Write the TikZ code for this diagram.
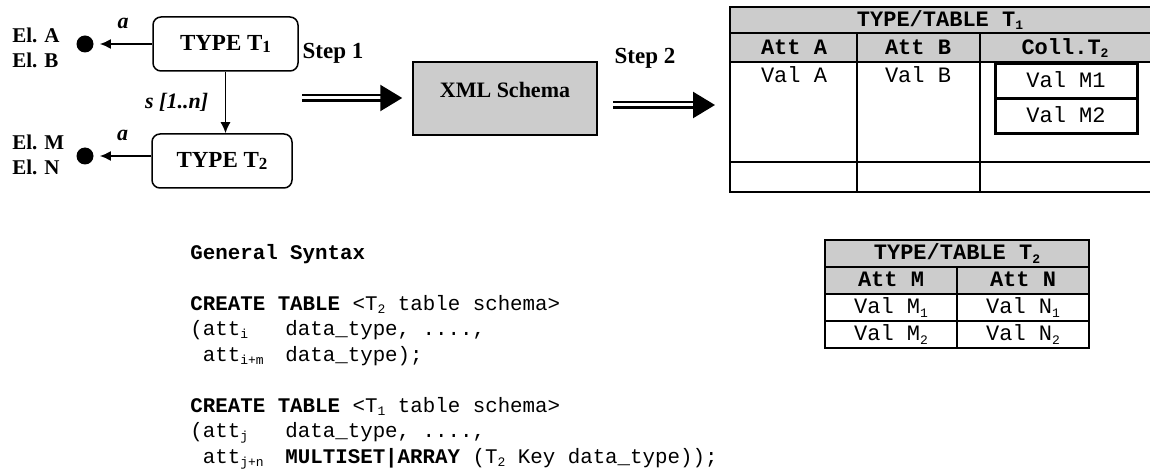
\documentclass[tikz,border=0pt]{standalone}
\usepackage{fontspec}
\setmainfont{Liberation Serif}
\setmonofont{Liberation Mono}
\usepackage{tikz}
\usetikzlibrary{positioning,arrows.meta}
\newcommand{\sbs}[1]{\raisebox{-0.3ex}{\fontsize{6.5}{6.5}\selectfont #1}}
\newcommand{\lsub}[1]{\raisebox{-0.25ex}{\fontsize{8.5}{8.5}\selectfont #1}}

\begin{document}
\begin{tikzpicture}[x=0.5pt, y=-0.5pt,
    typenode/.style={draw, rounded corners=4pt, line width=0.75pt, minimum height=27pt, font=\bfseries\fontsize{11.5}{12}\selectfont},
    elemdot/.style={circle, fill=black, inner sep=0pt, minimum size=8.5pt},
    rolearrow/.style={-{Latex[length=5.5pt, width=5pt]}, line width=0.75pt},
    rolelabel/.style={font=\bfseries\itshape\fontsize{11}{12}\selectfont},
    elemlabel/.style={align=left, anchor=west, inner sep=0pt, font=\bfseries\fontsize{10.5}{12.5}\selectfont},
    steplabel/.style={font=\bfseries\fontsize{11.5}{12}\selectfont},
    schemanode/.style={draw, fill=gray!40, line width=0.75pt, minimum width=92pt, minimum height=36.5pt, text height=7.5pt, text depth=8.8pt, font=\bfseries\fontsize{11}{12}\selectfont},
    steparrow/.style={double, line width=1.2pt, double distance=1.5pt, -{Triangle[length=11pt, width=13pt]}},
    tabtext/.style={inner sep=0pt, text height=6.5pt, text depth=0.3pt, font=\ttfamily\fontsize{11}{12}\selectfont},
    tabhead/.style={tabtext, font=\ttfamily\bfseries\fontsize{11}{12}\selectfont},
    tabcell/.style={draw, line width=0.75pt, outer sep=0pt, minimum width=66pt, minimum height=13.5pt},
    codeline/.style={anchor=base west, inner sep=0pt, font=\ttfamily\fontsize{10.4}{12.75}\selectfont}
]
\useasboundingbox (0,0) rectangle (1150,470);

% types and elements
\node[typenode, minimum width=72.5pt](typeone) at (225.5,44){TYPE T\lsub{1}};
\node[typenode, minimum width=70pt](typetwo) at (222,161){TYPE T\lsub{2}};
\node[elemdot](dotab) at (85,44){};
\node[elemdot](dotmn) at (85,156){};
\node[elemlabel](elab) at (12,47.5){El. A\\El. B};
\node[elemlabel](elmn) at (12,154.5){El. M\\El. N};
\draw[rolearrow, shorten >=3pt] (typeone.west) -- node[rolelabel, above=4pt](roleab){a} (dotab);
\draw[rolearrow, shorten >=3pt] (typetwo.west |- dotmn) -- node[rolelabel, above=4pt](rolemn){a} (dotmn);
\draw[rolearrow] (typeone.south) -- node[rolelabel, left=5pt](setlabel){s [1..n]} (typeone.south |- typetwo.north);

% steps
\node[steplabel](stepone) at (333,53){Step 1};
\node[schemanode](xml) at (505,98.5){XML Schema};
\node[steplabel](steptwo) at (645,58){Step 2};
\coordinate (sonestart) at (302,98);
\coordinate (stwostart) at (613,105);
\coordinate (tonewest) at (730,105);
\draw[steparrow, shorten >=5pt] (sonestart) -- (sonestart -| xml.west);
\draw[steparrow, shorten >=7.5pt] (stwostart) -- (tonewest);

% table T1
\fill[gray!40] (730,7) rectangle (1150,62);
\draw[line width=1pt] (1150,7) -- (730,7) -- (730,192) -- (1150,192);
\draw[line width=1pt] (730,33) -- (1150,33) (730,62) -- (1150,62) (730,162) -- (1150,162);
\draw[line width=1pt] (857,33) -- (857,192) (980,33) -- (980,192);
\node[tabhead](tonehead) at (940,20){TYPE/TABLE T\sbs{1}};
\node[tabhead](atta) at (794,48){Att A};
\node[tabhead](attb) at (918,48){Att B};
\node[tabhead](collt) at (1065,48){Coll.T\sbs{2}};
\node[tabtext](vala) at (794,76){Val A};
\node[tabtext](valb) at (918,76){Val B};
\node[tabcell, tabtext, line width=1.5pt, minimum width=71pt, minimum height=17.5pt](valmone) at (1066,81.5){Val M1};
\node[tabcell, tabtext, line width=1.5pt, minimum width=71pt, minimum height=17.5pt](valmtwo)[below=0pt of valmone]{Val M2};

% table T2
\node[tabcell, tabhead, fill=gray!40, minimum width=132pt](ttwohead) at (957,253.5){TYPE/TABLE T\sbs{2}};
\node[tabcell, tabhead, fill=gray!40, anchor=north west](attm) at (ttwohead.south west){Att M};
\node[tabcell, tabhead, fill=gray!40, anchor=north east](attn) at (ttwohead.south east){Att N};
\node[tabcell, tabtext](mone)[below=0pt of attm]{Val M\sbs{1}};
\node[tabcell, tabtext](none)[below=0pt of attn]{Val N\sbs{1}};
\node[tabcell, tabtext](mtwo)[below=0pt of mone]{Val M\sbs{2}};
\node[tabcell, tabtext](ntwo)[below=0pt of none]{Val N\sbs{2}};
\draw[line width=1pt] (ttwohead.north west) rectangle (ntwo.south east);

% syntax
\node[codeline](syntitle) at (190,259){\textbf{General Syntax}};
\node[codeline](ctone) at (190,310){\textbf{CREATE TABLE} <T\sbs{2} table schema>};
\node[codeline](ctonea) at (190,335.5){\makebox[47.5pt][l]{(att\sbs{i}}data\_type, ....,};
\node[codeline](ctoneb) at (190,361){\makebox[47.5pt][l]{\ att\sbs{i+m}}data\_type);};
\node[codeline](cttwo) at (190,412){\textbf{CREATE TABLE} <T\sbs{1} table schema>};
\node[codeline](cttwoa) at (190,437.5){\makebox[47.5pt][l]{(att\sbs{j}}data\_type, ....,};
\node[codeline](cttwob) at (190,463){\makebox[47.5pt][l]{\ att\sbs{j+n}}\textbf{MULTISET|ARRAY} (T\sbs{2} Key data\_type));};
\end{tikzpicture}
\end{document}
